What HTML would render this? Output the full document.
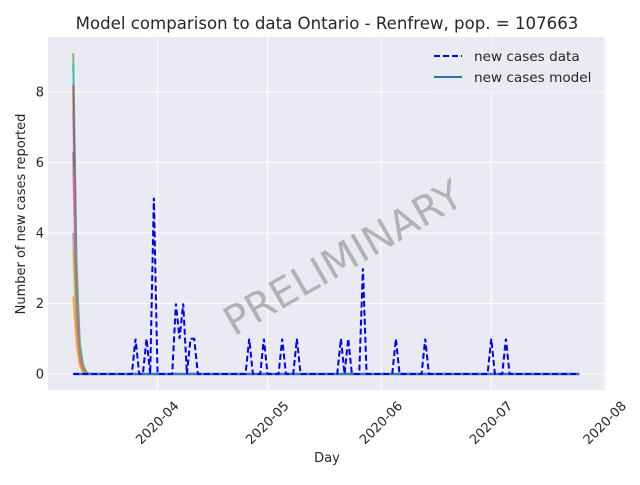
<!DOCTYPE html>
<html><head><meta charset="utf-8"><style>
body{margin:0;background:#fff;font-family:"Liberation Sans","DejaVu Sans",sans-serif;}
svg text{font-family:"DejaVu Sans","Liberation Sans",sans-serif;}
</style></head><body>
<svg id="c" width="640" height="480" xmlns="http://www.w3.org/2000/svg">
<rect width="640" height="480" fill="#fff"/>
<rect x="48" y="37" width="558" height="353" fill="#eaeaf2"/>
<g id="grid"></g>
<g id="series"></g>
<text x="350" y="270" font-size="40.5" fill="#a0a0a0" opacity="0.75" text-anchor="middle" transform="rotate(-30 350 270)">PRELIMINARY</text>
<g id="axes"></g>
<text x="327" y="29" font-size="16.6" fill="#262626" text-anchor="middle">Model comparison to data Ontario - Renfrew, pop. = 107663</text>
<text x="327" y="462" font-size="13" fill="#262626" text-anchor="middle">Day</text>
<text x="25" y="214" font-size="13" fill="#262626" text-anchor="middle" transform="rotate(-90 25 214)">Number of new cases reported</text>
<g>
<rect x="426" y="42" width="174" height="50" rx="3" fill="#eaeaf2" opacity="0.8"/>
<line x1="434" y1="56" x2="462" y2="56" stroke="#0000ff" stroke-width="2" stroke-dasharray="6,3"/>
<text x="474" y="61" font-size="13.6" fill="#262626">new cases data</text>
<line x1="434" y1="77" x2="462" y2="77" stroke="#1f77b4" stroke-width="2"/>
<text x="474" y="82" font-size="13.6" fill="#262626">new cases model</text>
</g>
</svg>
<script>
const startDate = "2020-03-09";
const nDays = 139;
const dataSpikeDays = [17,20,22,28,29,30,32,33,48,52,57,61,73,75,79,88,96,114,118];
const dataSpikeValues = [1,1,5,2,1,2,1,1,1,1,1,1,1,1,3,1,1,1,1];
const modelRuns = [
 [9.1,3.2,0.9,0.25,0.05,0],
 [8.8,2.8,0.8,0.2,0.04,0],
 [8.2,2.2,0.6,0.15,0.03,0],
 [7.5,2.0,0.5,0.1,0.02,0],
 [6.3,1.8,0.45,0.1,0.02,0],
 [5.8,2.2,0.6,0.12,0.02,0],
 [4.0,1.6,0.4,0.08,0.01,0],
 [3.5,1.2,0.3,0.06,0.01,0],
 [2.2,0.9,0.25,0.05,0.01,0]
];
const runColors = ["#2ca02c","#17becf","#d62728","#9467bd","#8c564b","#e377c2","#7f7f7f","#bcbd22","#ff7f0e"];
const yTicks = [0,2,4,6,8];
const xTickLabels = ["2020-04","2020-05","2020-06","2020-07","2020-08"];
const xTickDays = [23,53,84,114,145];

const NS="http://www.w3.org/2000/svg";
const xS = d => 73.2 + d*3.667;
const yS = v => 374 - v*35.25;
function mk(tag, attrs, parent){const e=document.createElementNS(NS,tag);for(const k in attrs)e.setAttribute(k,attrs[k]);parent.appendChild(e);return e;}
const grid=document.getElementById('grid'), ser=document.getElementById('series'), axes=document.getElementById('axes');
yTicks.forEach(v=>{
 const l=mk('line',{x1:48,x2:606,y1:yS(v),y2:yS(v),stroke:'#fff','stroke-width':1},grid);
 
 
 const t=mk('text',{x:44,y:yS(v)+4.5,'font-size':13,fill:'#262626','text-anchor':'end'},axes);
 t.textContent=v;
 
 
});
xTickDays.forEach((d,i)=>{
 const x=xS(d);
 const l=mk('line',{x1:x,x2:x,y1:37,y2:390,stroke:'#fff','stroke-width':1},grid);
 
 
 const t=mk('text',{x:x,y:427,'font-size':13,fill:'#262626','text-anchor':'middle',transform:`rotate(-45 ${x} 423)`},axes);
 t.textContent=xTickLabels[i];
 
 
});
modelRuns.forEach((r,i)=>{
 const pts=[];
 for(let k=0;k<r.length;k++)pts.push(xS(k*0.9)+','+yS(r[k]));
 pts.push(xS(nDays-1)+','+yS(0));
 const p=mk('polyline',{points:pts.join(' '),fill:'none',stroke:runColors[i],'stroke-width':2,opacity:0.6},ser);
 
 
});
const m=mk('polyline',{points:xS(0)+','+yS(0)+' '+xS(nDays-1)+','+yS(0),fill:'none',stroke:'#3a7ab0','stroke-width':2.5},ser);


const vals=new Array(nDays).fill(0);
dataSpikeDays.forEach((d,i)=>vals[d]=dataSpikeValues[i]);
const dp=vals.map((v,d)=>xS(d)+','+yS(v)).join(' ');
const dl=mk('polyline',{points:dp,fill:'none',stroke:'#0000ff','stroke-width':2,'stroke-dasharray':'6,3'},ser);


</script>
</body></html>
